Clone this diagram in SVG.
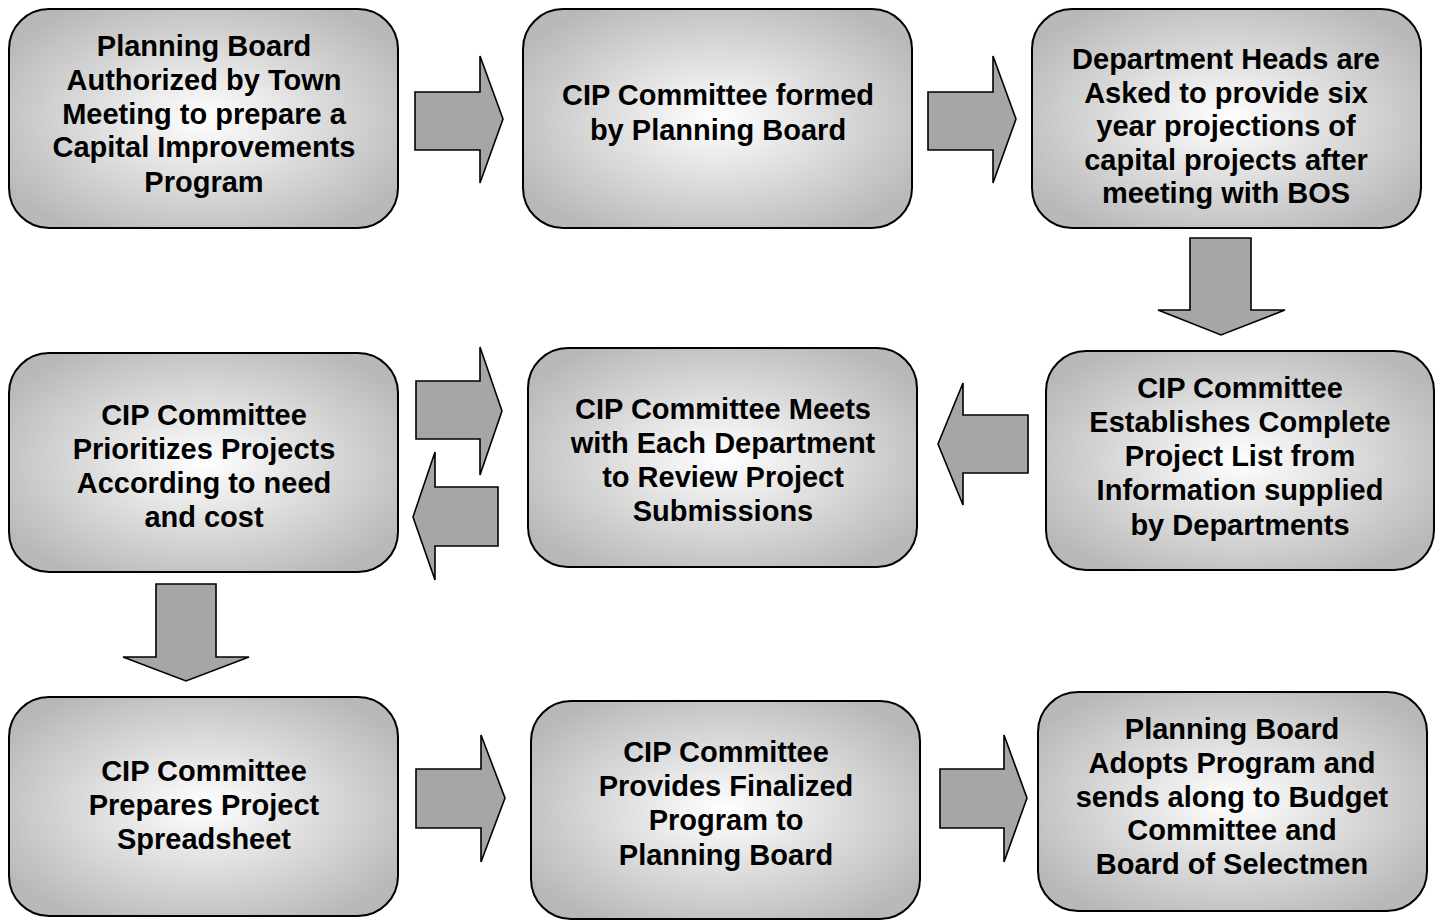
<svg xmlns="http://www.w3.org/2000/svg" width="1436" height="920" viewBox="0 0 1436 920">
<defs>
<radialGradient id="g" cx="50%" cy="50%" r="60%">
<stop offset="0" stop-color="#ffffff"/>
<stop offset="1" stop-color="#b8b8b8"/>
</radialGradient>
<style>
.box{fill:url(#g);stroke:#000;stroke-width:2}
.ar{fill:#a6a6a6;stroke:#000;stroke-width:1.6;stroke-linejoin:miter}
text{font-family:"Liberation Sans",Arial,sans-serif;font-weight:bold;font-size:29px;fill:#000;text-anchor:middle}
</style>
</defs>
<rect width="1436" height="920" fill="#fff"/>
<g id="connectors">
<polygon class="ar" points="415,92 480,92 480,56 503,119 480,183 480,150 415,150"/>
<polygon class="ar" points="928,92 993,92 993,56 1016,119 993,183 993,150 928,150"/>
<polygon class="ar" points="1190,238 1251,238 1251,310 1285,310 1221,335 1158,310 1190,310"/>
<polygon class="ar" points="1028,415 963,415 963,383 938,444 963,505 963,473 1028,473"/>
<polygon class="ar" points="416,381 480,381 480,347 502,411 480,475 480,439 416,439"/>
<polygon class="ar" points="498,487 435,487 435,452 413,517 435,580 435,546 498,546"/>
<polygon class="ar" points="156,584 216,584 216,657 249,657 186,681 123,657 156,657"/>
<polygon class="ar" points="416,769 481,769 481,735 505,798 481,862 481,828 416,828"/>
<polygon class="ar" points="940,769 1004,769 1004,735 1027,798 1004,862 1004,828 940,828"/>
</g>
<g id="n1"><rect class="box" x="9" y="9" width="389" height="219" rx="40"/>
<text x="204" y="56">Planning Board</text><text x="204" y="90">Authorized by Town</text><text x="204" y="124">Meeting to prepare a</text><text x="204" y="157">Capital Improvements</text><text x="204" y="192">Program</text></g>
<g id="n2"><rect class="box" x="523" y="9" width="389" height="219" rx="40"/>
<text x="718" y="105">CIP Committee formed</text><text x="718" y="140">by Planning Board</text></g>
<g id="n3"><rect class="box" x="1032" y="9" width="389" height="219" rx="40"/>
<text x="1226" y="69">Department Heads are</text><text x="1226" y="103">Asked to provide six</text><text x="1226" y="136">year projections of</text><text x="1226" y="170">capital projects after</text><text x="1226" y="203">meeting with BOS</text></g>
<g id="n4"><rect class="box" x="9" y="353" width="389" height="219" rx="40"/>
<text x="204" y="425">CIP Committee</text><text x="204" y="459">Prioritizes Projects</text><text x="204" y="493">According to need</text><text x="204" y="527">and cost</text></g>
<g id="n5"><rect class="box" x="528" y="348" width="389" height="219" rx="40"/>
<text x="723" y="419">CIP Committee Meets</text><text x="723" y="453">with Each Department</text><text x="723" y="487">to Review Project</text><text x="723" y="521">Submissions</text></g>
<g id="n6"><rect class="box" x="1046" y="351" width="388" height="219" rx="40"/>
<text x="1240" y="398">CIP Committee</text><text x="1240" y="432">Establishes Complete</text><text x="1240" y="466">Project List from</text><text x="1240" y="500">Information supplied</text><text x="1240" y="535">by Departments</text></g>
<g id="n7"><rect class="box" x="9" y="697" width="389" height="219" rx="40"/>
<text x="204" y="781">CIP Committee</text><text x="204" y="815">Prepares Project</text><text x="204" y="849">Spreadsheet</text></g>
<g id="n8"><rect class="box" x="531" y="701" width="389" height="218" rx="40"/>
<text x="726" y="762">CIP Committee</text><text x="726" y="796">Provides Finalized</text><text x="726" y="830">Program to</text><text x="726" y="865">Planning Board</text></g>
<g id="n9"><rect class="box" x="1038" y="692" width="389" height="219" rx="40"/>
<text x="1232" y="739">Planning Board</text><text x="1232" y="773">Adopts Program and</text><text x="1232" y="807">sends along to Budget</text><text x="1232" y="840">Committee and</text><text x="1232" y="874">Board of Selectmen</text></g>
</svg>
